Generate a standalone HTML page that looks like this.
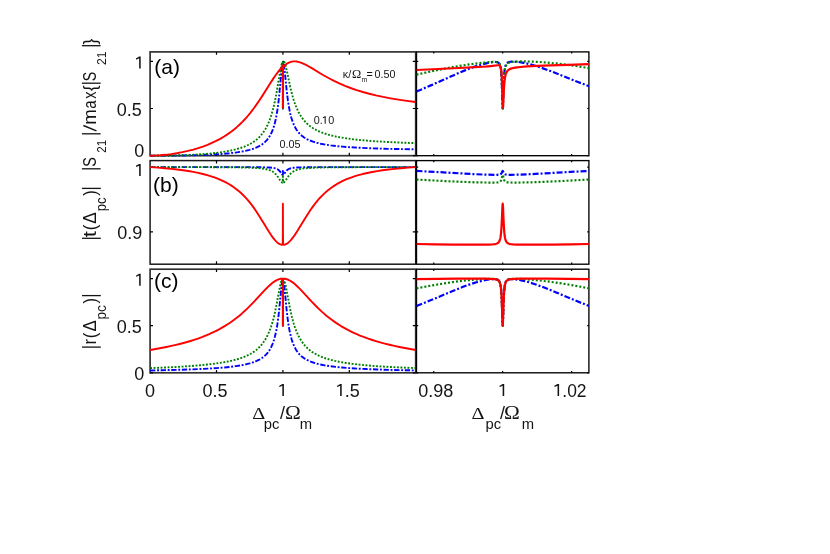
<!DOCTYPE html>
<html><head><meta charset="utf-8"><title>figure</title>
<style>
html,body{margin:0;padding:0;background:#fff;}
body{width:830px;height:554px;overflow:hidden;font-family:"Liberation Sans",sans-serif;}
svg text{white-space:pre;}
svg{will-change:transform;}
</style></head><body>
<svg width="830" height="554" viewBox="0 0 830 554" style="display:block">
<rect width="830" height="554" fill="#fff"/>
<defs>
<clipPath id="cl0"><rect x="149.90" y="51.40" width="265.80" height="105.50"/></clipPath>
<clipPath id="cr0"><rect x="416.20" y="51.40" width="173.00" height="105.50"/></clipPath>
<clipPath id="cl1"><rect x="149.90" y="160.10" width="265.80" height="105.30"/></clipPath>
<clipPath id="cr1"><rect x="416.20" y="160.10" width="173.00" height="105.30"/></clipPath>
<clipPath id="cl2"><rect x="149.90" y="268.70" width="265.80" height="105.30"/></clipPath>
<clipPath id="cr2"><rect x="416.20" y="268.70" width="173.00" height="105.30"/></clipPath>
</defs>
<rect x="150.10" y="51.90" width="265.60" height="103.80" fill="none" stroke="#333333" stroke-width="1.70"/>
<path d="M216.50 155.70v-2.90M216.50 51.90v2.90M282.90 155.70v-2.90M282.90 51.90v2.90M349.30 155.70v-2.90M349.30 51.90v2.90M150.10 155.70h2.90M415.70 155.70h-2.90M150.10 108.52h2.90M415.70 108.52h-2.90M150.10 61.34h2.90M415.70 61.34h-2.90" stroke="#000" stroke-width="1.2" fill="none"/>
<g clip-path="url(#cl0)" fill="none" stroke-width="1.90" stroke-linejoin="round">
<path d="M150.10,155.70 L176.00,155.59 L186.95,155.42 L196.91,155.16 L206.21,154.82 L214.84,154.39 L222.48,153.88 L229.45,153.26 L235.42,152.57 L240.74,151.78 L245.38,150.89 L249.70,149.85 L253.35,148.72 L256.67,147.42 L259.66,145.93 L260.99,145.15 L262.32,144.26 L263.64,143.25 L264.64,142.40 L266.63,140.41 L268.29,138.36 L269.95,135.82 L271.28,133.31 L272.61,130.23 L273.94,126.38 L274.93,122.81 L275.93,118.45 L276.59,115.00 L277.59,108.78 L278.25,103.79 L278.92,98.03 L279.58,91.44 L281.67,68.13 L282.18,63.84 L282.39,62.61 L282.56,61.99 L282.62,61.96 L282.67,62.07 L282.74,62.89 L282.82,67.34 L282.90,108.50 L282.99,67.33 L283.08,62.80 L283.17,61.89 L283.29,61.60 L283.50,61.96 L283.74,63.02 L284.28,66.85 L286.55,89.34 L287.22,95.12 L287.88,100.19 L288.54,104.59 L289.54,110.12 L290.20,113.22 L291.20,117.16 L292.20,120.42 L293.52,123.96 L294.85,126.81 L295.52,128.05 L296.51,129.69 L298.17,132.00 L299.83,133.88 L301.82,135.72 L304.15,137.45 L306.80,139.02 L309.79,140.43 L313.11,141.68 L316.76,142.77 L320.75,143.72 L325.40,144.60 L330.71,145.40 L336.35,146.07 L342.66,146.67 L349.96,147.22 L358.26,147.71 L367.23,148.13 L377.52,148.51 L388.81,148.84 L415.70,149.38" stroke="#0000ff" stroke-dasharray="5.3 1.7 1.9 1.7"/>
<path d="M150.10,155.70 L162.38,155.66 L172.01,155.55 L181.31,155.32 L189.94,154.98 L198.24,154.52 L206.21,153.93 L213.18,153.25 L219.82,152.43 L225.80,151.50 L231.11,150.48 L236.09,149.29 L240.40,148.02 L244.39,146.59 L248.04,145.00 L251.36,143.23 L254.35,141.31 L257.00,139.24 L259.33,137.08 L261.65,134.49 L263.64,131.84 L265.64,128.66 L267.30,125.52 L268.96,121.79 L270.28,118.30 L271.61,114.25 L272.61,110.79 L273.60,106.91 L274.60,102.58 L275.60,97.75 L276.59,92.44 L279.58,74.63 L280.58,69.07 L281.09,66.57 L281.62,64.40 L282.09,62.86 L282.49,61.97 L282.58,61.92 L282.64,62.00 L282.72,62.55 L282.81,66.59 L282.90,108.47 L283.02,65.90 L283.08,63.54 L283.18,62.33 L283.36,61.63 L283.50,61.45 L283.65,61.39 L283.88,61.48 L284.13,61.73 L284.71,62.82 L285.26,64.41 L285.89,66.69 L286.88,71.05 L290.20,86.82 L291.53,92.36 L292.53,96.08 L293.52,99.45 L294.52,102.48 L295.52,105.23 L296.84,108.49 L298.50,111.99 L300.16,114.97 L301.82,117.53 L303.82,120.15 L305.81,122.37 L308.13,124.57 L310.46,126.44 L313.11,128.24 L316.10,129.95 L319.42,131.53 L323.07,132.99 L327.06,134.31 L331.37,135.49 L336.02,136.56 L341.00,137.51 L346.64,138.41 L352.95,139.25 L359.59,139.97 L366.90,140.64 L374.86,141.23 L383.83,141.79 L393.46,142.28 L404.08,142.73 L415.70,143.13" stroke="#008000" stroke-dasharray="1.9 1.6"/>
<path d="M150.10,155.70 L155.08,155.61 L160.39,155.31 L165.70,154.82 L171.02,154.16 L176.66,153.26 L182.30,152.19 L187.95,150.93 L193.26,149.55 L198.24,148.08 L202.89,146.53 L207.54,144.79 L211.85,142.97 L216.17,140.93 L220.15,138.83 L224.14,136.49 L227.79,134.11 L230.78,131.98 L233.76,129.67 L236.75,127.16 L239.41,124.75 L242.40,121.83 L245.05,119.02 L247.71,116.01 L250.36,112.80 L254.02,108.03 L258.00,102.41 L262.32,95.87 L270.28,83.24 L273.27,78.64 L275.26,75.72 L277.26,72.96 L281.80,67.25 L282.32,66.37 L282.73,65.23 L282.81,66.30 L282.85,71.09 L282.91,107.74 L283.01,74.85 L283.11,70.11 L283.32,67.86 L283.62,66.87 L284.13,66.05 L285.01,65.14 L286.22,64.17 L287.55,63.32 L288.88,62.63 L290.20,62.10 L291.86,61.64 L293.19,61.42 L294.52,61.34 L295.52,61.38 L296.84,61.55 L298.17,61.82 L299.83,62.29 L301.49,62.87 L303.15,63.56 L305.48,64.67 L308.46,66.27 L311.78,68.19 L320.08,73.20 L324.40,75.73 L329.38,78.50 L334.03,80.89 L339.34,83.41 L344.98,85.83 L350.63,88.01 L356.60,90.07 L362.91,92.01 L369.22,93.74 L375.86,95.35 L383.16,96.93 L390.47,98.32 L398.44,99.66 L406.74,100.88 L415.70,102.05" stroke="#ff0000" />
</g>
<rect x="416.50" y="51.90" width="172.40" height="103.80" fill="none" stroke="#000000" stroke-width="1.35"/>
<path d="M433.74 155.70v-1.70M433.74 51.90v1.70M502.70 155.70v-1.70M502.70 51.90v1.70M571.66 155.70v-1.70M571.66 51.90v1.70M416.50 155.70h1.70M588.90 155.70h-1.70M416.50 108.52h1.70M588.90 108.52h-1.70M416.50 61.34h1.70M588.90 61.34h-1.70" stroke="#000" stroke-width="1.2" fill="none"/>
<g clip-path="url(#cr0)" fill="none" stroke-width="2.20" stroke-linejoin="round">
<path d="M416.50,91.44 L423.40,88.59 L430.87,85.38 L458.74,72.97 L464.92,70.38 L470.38,68.23 L474.11,66.87 L477.56,65.71 L480.86,64.69 L484.02,63.81 L487.18,63.06 L490.06,62.49 L492.64,62.11 L494.65,61.96 L496.09,61.99 L497.24,62.19 L498.12,62.54 L498.82,63.07 L499.45,63.88 L499.96,64.98 L500.39,66.48 L500.67,67.89 L500.98,70.11 L501.19,72.29 L501.58,78.17 L501.94,86.87 L502.49,105.09 L502.61,107.65 L502.72,108.51 L502.84,107.71 L502.96,105.19 L503.49,88.20 L503.82,80.27 L504.21,74.08 L504.65,69.88 L505.00,67.76 L505.33,66.38 L505.72,65.21 L506.25,64.13 L506.87,63.31 L507.48,62.77 L508.30,62.31 L509.31,61.97 L511.18,61.67 L513.62,61.61 L516.64,61.79 L519.94,62.19 L523.53,62.81 L527.27,63.61 L531.15,64.60 L535.31,65.80 L542.35,68.10 L550.40,71.05 L558.01,74.01 L577.98,81.99 L588.90,86.19" stroke="#0000ff" stroke-dasharray="6 2 2 2"/>
<path d="M416.50,74.63 L431.01,71.41 L443.65,68.81 L455.29,66.64 L466.21,64.86 L472.24,64.00 L478.13,63.25 L483.74,62.64 L488.75,62.18 L492.21,61.97 L494.80,61.93 L496.52,62.06 L497.82,62.40 L498.53,62.79 L499.11,63.31 L499.58,63.99 L499.96,64.78 L500.29,65.79 L500.58,67.03 L501.06,70.33 L501.41,74.39 L501.72,80.10 L502.00,87.74 L502.51,104.83 L502.63,107.58 L502.75,108.47 L502.86,107.69 L502.98,105.28 L503.53,88.51 L503.85,80.92 L504.21,75.32 L504.65,71.03 L504.91,69.30 L505.22,67.84 L505.57,66.58 L506.00,65.48 L506.56,64.51 L507.09,63.87 L507.73,63.33 L508.63,62.80 L510.17,62.26 L512.33,61.86 L515.06,61.60 L518.65,61.44 L523.24,61.40 L528.42,61.48 L533.88,61.69 L539.62,62.01 L545.08,62.42 L550.68,62.91 L562.47,64.21 L575.11,65.91 L588.90,68.07" stroke="#008000" stroke-dasharray="2 2"/>
<path d="M416.50,69.99 L459.03,68.01 L475.26,67.19 L482.73,66.74 L488.33,66.32 L492.36,65.93 L497.82,65.25 L498.68,65.25 L499.40,65.41 L499.83,65.68 L500.11,65.99 L500.40,66.48 L500.69,67.23 L501.13,69.30 L501.48,72.49 L501.72,75.88 L501.94,80.50 L502.66,103.71 L502.80,106.76 L502.93,107.74 L503.04,107.20 L503.17,105.15 L503.72,92.70 L504.08,86.40 L504.49,81.54 L505.01,77.56 L505.33,75.92 L505.72,74.41 L506.15,73.17 L506.72,71.96 L507.30,71.10 L508.02,70.30 L508.88,69.62 L509.73,69.12 L510.89,68.63 L512.18,68.22 L513.76,67.85 L515.51,67.55 L520.23,66.98 L526.98,66.47 L537.04,65.94 L550.68,65.38 L568.36,64.78 L588.90,64.17" stroke="#ff0000" />
</g>
<rect x="150.10" y="160.60" width="265.60" height="103.60" fill="none" stroke="#1a1a1a" stroke-width="1.50"/>
<path d="M216.50 264.20v-2.90M216.50 160.60v2.90M282.90 264.20v-2.90M282.90 160.60v2.90M349.30 264.20v-2.90M349.30 160.60v2.90M150.10 231.82h2.90M415.70 231.82h-2.90M150.10 167.07h2.90M415.70 167.07h-2.90" stroke="#000" stroke-width="1.2" fill="none"/>
<g clip-path="url(#cl1)" fill="none" stroke-width="1.90" stroke-linejoin="round">
<path d="M150.10,167.08 L247.04,167.14 L261.65,167.25 L269.29,167.50 L271.94,167.72 L274.27,168.07 L275.93,168.50 L277.26,169.07 L278.25,169.70 L279.25,170.60 L280.24,171.83 L281.84,174.20 L282.28,174.65 L282.60,174.81 L282.74,174.68 L282.81,174.26 L282.90,170.96 L283.00,174.34 L283.08,174.73 L283.26,174.80 L283.60,174.59 L284.00,174.14 L285.56,171.83 L286.55,170.60 L287.55,169.70 L288.54,169.07 L289.87,168.50 L291.86,168.00 L294.19,167.69 L296.84,167.49 L304.81,167.24 L319.42,167.13 L415.70,167.08" stroke="#0000ff" stroke-dasharray="5.3 1.7 1.9 1.7"/>
<path d="M150.10,167.08 L206.21,167.15 L235.09,167.33 L244.39,167.48 L251.69,167.70 L257.34,168.01 L261.65,168.41 L265.30,168.96 L268.29,169.68 L269.62,170.13 L270.95,170.68 L271.94,171.19 L272.94,171.80 L274.60,173.09 L275.93,174.42 L277.59,176.53 L279.91,180.03 L280.79,181.25 L281.71,182.21 L282.15,182.49 L282.48,182.58 L282.61,182.53 L282.70,182.38 L282.80,181.60 L282.90,174.83 L283.02,181.86 L283.15,182.49 L283.28,182.57 L283.50,182.55 L283.85,182.38 L284.23,182.09 L285.09,181.15 L288.21,176.53 L289.87,174.42 L291.20,173.09 L292.86,171.80 L293.86,171.19 L294.85,170.68 L296.18,170.13 L297.51,169.68 L300.50,168.96 L304.15,168.41 L308.46,168.01 L314.11,167.70 L321.41,167.48 L330.71,167.33 L359.59,167.15 L415.70,167.08" stroke="#008000" stroke-dasharray="1.9 1.6"/>
<path d="M150.10,167.08 L157.74,167.61 L164.71,168.19 L171.35,168.83 L177.32,169.51 L182.97,170.24 L188.28,171.04 L193.26,171.90 L198.24,172.90 L202.89,173.97 L207.20,175.10 L211.19,176.30 L215.17,177.66 L218.82,179.08 L222.14,180.53 L225.46,182.17 L228.78,184.00 L231.44,185.64 L233.76,187.20 L236.09,188.91 L238.41,190.77 L240.74,192.79 L243.06,194.99 L245.38,197.38 L247.38,199.59 L249.70,202.36 L251.69,204.90 L253.68,207.60 L256.01,210.95 L260.32,217.65 L268.96,231.81 L271.28,235.34 L273.27,238.08 L274.60,239.72 L275.60,240.83 L276.92,242.12 L277.92,242.94 L278.92,243.63 L279.91,244.17 L281.02,244.58 L281.95,244.73 L282.37,244.62 L282.58,244.24 L282.69,243.33 L282.76,241.69 L282.84,232.76 L282.90,203.64 L282.97,234.62 L283.08,242.80 L283.19,244.08 L283.39,244.59 L283.60,244.70 L283.88,244.73 L284.78,244.58 L285.89,244.17 L286.88,243.63 L287.88,242.94 L288.88,242.12 L289.87,241.17 L290.87,240.10 L293.19,237.21 L295.18,234.36 L297.18,231.29 L305.48,217.65 L309.46,211.44 L311.78,208.07 L313.78,205.34 L315.77,202.77 L318.09,199.97 L320.08,197.74 L322.41,195.32 L324.73,193.09 L327.06,191.04 L329.38,189.16 L331.70,187.44 L334.03,185.85 L336.68,184.20 L340.00,182.34 L343.32,180.69 L346.64,179.22 L350.30,177.79 L354.28,176.41 L358.26,175.20 L362.58,174.05 L367.23,172.97 L372.21,171.97 L377.19,171.10 L382.50,170.29 L388.48,169.51 L394.45,168.83 L401.09,168.19 L408.06,167.61 L415.70,167.08" stroke="#ff0000" />
</g>
<rect x="416.50" y="160.60" width="172.40" height="103.60" fill="none" stroke="#000000" stroke-width="1.35"/>
<path d="M433.74 264.20v-1.70M433.74 160.60v1.70M502.70 264.20v-1.70M502.70 160.60v1.70M571.66 264.20v-1.70M571.66 160.60v1.70M416.50 231.82h1.70M588.90 231.82h-1.70M416.50 167.07h1.70M588.90 167.07h-1.70" stroke="#000" stroke-width="1.2" fill="none"/>
<g clip-path="url(#cr1)" fill="none" stroke-width="2.20" stroke-linejoin="round">
<path d="M416.50,170.97 L434.89,171.90 L474.54,174.16 L485.89,174.63 L494.80,174.81 L497.02,174.78 L498.53,174.69 L499.58,174.53 L500.40,174.26 L500.91,173.93 L501.38,173.42 L501.76,172.74 L502.40,171.25 L502.56,171.03 L502.69,170.96 L502.84,171.03 L503.00,171.25 L503.64,172.74 L504.02,173.42 L504.49,173.93 L505.00,174.26 L505.82,174.53 L506.87,174.69 L508.38,174.78 L510.60,174.81 L519.51,174.63 L530.86,174.16 L570.51,171.90 L588.90,170.97" stroke="#0000ff" stroke-dasharray="6 2 2 2"/>
<path d="M416.50,179.53 L443.22,181.01 L464.20,181.95 L474.54,182.29 L484.02,182.50 L491.78,182.58 L496.24,182.49 L497.92,182.34 L499.11,182.09 L499.96,181.71 L500.58,181.18 L501.06,180.45 L501.43,179.54 L501.80,178.20 L502.40,175.42 L502.56,174.97 L502.70,174.83 L502.84,174.97 L503.00,175.42 L503.60,178.20 L503.97,179.54 L504.34,180.45 L504.82,181.18 L505.44,181.71 L506.29,182.09 L507.48,182.34 L509.16,182.49 L513.62,182.58 L521.38,182.50 L530.86,182.29 L541.20,181.95 L562.18,181.01 L588.90,179.53" stroke="#008000" stroke-dasharray="2 2"/>
<path d="M416.50,244.00 L435.18,244.33 L453.28,244.57 L470.09,244.71 L482.44,244.72 L488.62,244.63 L492.50,244.43 L493.99,244.28 L495.23,244.07 L496.23,243.81 L497.02,243.51 L497.82,243.05 L498.39,242.56 L498.96,241.85 L499.40,241.08 L499.83,240.00 L500.11,239.02 L500.40,237.73 L500.69,236.02 L501.06,232.86 L501.43,228.07 L501.80,221.08 L502.39,206.92 L502.55,204.46 L502.70,203.64 L502.85,204.46 L503.01,206.92 L503.60,221.08 L503.97,228.07 L504.34,232.86 L504.71,236.02 L505.00,237.73 L505.29,239.02 L505.57,240.00 L506.00,241.08 L506.44,241.85 L507.01,242.56 L507.58,243.05 L508.38,243.51 L509.16,243.81 L510.17,244.07 L511.41,244.28 L512.90,244.43 L516.78,244.63 L522.96,244.72 L535.31,244.71 L552.12,244.57 L570.22,244.33 L588.90,244.00" stroke="#ff0000" />
</g>
<rect x="150.10" y="269.20" width="265.60" height="103.60" fill="none" stroke="#333333" stroke-width="1.70"/>
<path d="M216.50 372.80v-2.90M216.50 269.20v2.90M282.90 372.80v-2.90M282.90 269.20v2.90M349.30 372.80v-2.90M349.30 269.20v2.90M150.10 372.80h2.90M415.70 372.80h-2.90M150.10 325.71h2.90M415.70 325.71h-2.90M150.10 278.62h2.90M415.70 278.62h-2.90" stroke="#000" stroke-width="1.2" fill="none"/>
<g clip-path="url(#cl2)" fill="none" stroke-width="1.90" stroke-linejoin="round">
<path d="M150.10,370.45 L177.32,369.84 L188.94,369.47 L199.24,369.07 L208.20,368.62 L216.50,368.10 L223.80,367.52 L230.11,366.89 L235.76,366.18 L241.07,365.35 L245.72,364.42 L249.70,363.43 L253.35,362.28 L256.67,360.97 L259.33,359.66 L260.66,358.90 L261.98,358.03 L264.31,356.24 L266.30,354.33 L267.30,353.19 L268.29,351.92 L269.95,349.40 L271.28,346.91 L272.61,343.87 L273.94,340.07 L274.93,336.54 L275.93,332.26 L276.59,328.88 L277.26,324.97 L277.92,320.46 L278.58,315.25 L279.25,309.28 L281.62,284.51 L282.15,280.51 L282.39,279.38 L282.56,279.03 L282.67,279.33 L282.74,280.21 L282.81,284.77 L282.90,325.71 L282.99,284.35 L283.08,279.95 L283.16,279.17 L283.21,279.04 L283.29,279.07 L283.48,279.62 L283.71,280.87 L284.23,284.92 L286.22,306.00 L286.88,312.36 L287.55,317.95 L288.21,322.80 L289.21,328.88 L289.87,332.26 L290.87,336.54 L291.86,340.07 L293.19,343.87 L294.52,346.91 L295.85,349.40 L297.51,351.92 L298.50,353.19 L299.50,354.33 L301.49,356.24 L303.82,358.03 L305.14,358.90 L306.47,359.66 L309.13,360.97 L312.45,362.28 L316.10,363.43 L320.08,364.42 L324.73,365.35 L330.04,366.18 L335.69,366.89 L342.00,367.52 L349.30,368.10 L357.60,368.62 L366.56,369.07 L376.86,369.47 L388.48,369.84 L415.70,370.45" stroke="#0000ff" stroke-dasharray="5.3 1.7 1.9 1.7"/>
<path d="M150.10,368.10 L162.05,367.63 L172.68,367.14 L182.64,366.58 L191.60,365.97 L199.90,365.29 L207.20,364.57 L213.84,363.79 L220.15,362.89 L225.80,361.92 L231.11,360.82 L235.76,359.66 L240.07,358.37 L243.72,357.06 L247.38,355.49 L250.70,353.78 L253.68,351.92 L256.34,349.95 L258.66,347.91 L260.99,345.48 L262.98,343.01 L264.97,340.08 L266.63,337.19 L268.29,333.81 L269.62,330.66 L270.95,327.03 L271.94,323.95 L272.94,320.51 L273.94,316.68 L274.93,312.43 L276.26,306.10 L279.25,290.09 L280.35,284.66 L280.95,282.21 L281.46,280.51 L281.99,279.28 L282.23,278.94 L282.42,278.82 L282.52,278.88 L282.60,279.05 L282.70,279.78 L282.80,283.78 L282.90,325.71 L283.01,282.78 L283.14,279.36 L283.28,278.88 L283.39,278.83 L283.52,278.89 L283.96,279.57 L284.45,280.85 L285.01,282.80 L285.55,285.11 L286.55,290.09 L289.54,306.10 L290.87,312.43 L291.86,316.68 L292.86,320.51 L293.86,323.95 L294.85,327.03 L296.18,330.66 L297.84,334.53 L299.50,337.81 L301.16,340.60 L303.15,343.45 L305.14,345.85 L307.47,348.22 L309.79,350.22 L312.45,352.15 L315.44,353.97 L318.76,355.65 L322.41,357.19 L326.06,358.48 L330.38,359.75 L335.02,360.90 L340.34,361.98 L345.98,362.94 L352.29,363.83 L358.93,364.61 L366.23,365.32 L374.53,365.99 L383.50,366.60 L393.12,367.14 L403.75,367.63 L415.70,368.10" stroke="#008000" stroke-dasharray="1.9 1.6"/>
<path d="M150.10,349.96 L161.06,348.04 L166.37,346.99 L171.35,345.93 L176.00,344.87 L180.64,343.71 L185.29,342.47 L189.61,341.22 L193.92,339.87 L197.91,338.53 L201.89,337.08 L205.54,335.65 L209.20,334.12 L212.85,332.46 L216.17,330.84 L219.49,329.11 L222.48,327.44 L225.46,325.66 L228.45,323.76 L231.11,321.96 L233.76,320.06 L236.42,318.05 L239.08,315.92 L241.73,313.66 L245.72,310.06 L249.70,306.18 L254.35,301.37 L262.65,292.36 L265.64,289.20 L268.96,285.92 L271.94,283.31 L273.27,282.30 L274.60,281.38 L275.93,280.58 L277.26,279.90 L278.58,279.35 L279.58,279.03 L280.79,278.76 L281.84,278.66 L282.35,278.76 L282.58,279.09 L282.70,279.96 L282.77,281.66 L282.85,292.02 L282.90,325.71 L282.96,289.33 L283.07,280.43 L283.18,279.28 L283.28,278.96 L283.41,278.79 L283.65,278.68 L284.00,278.66 L285.17,278.79 L286.22,279.03 L287.55,279.48 L288.88,280.06 L290.20,280.77 L291.53,281.60 L292.86,282.54 L294.19,283.58 L295.85,285.01 L298.17,287.19 L300.83,289.89 L311.45,301.37 L316.43,306.52 L319.09,309.11 L321.74,311.59 L324.07,313.66 L326.72,315.92 L331.37,319.57 L336.02,322.88 L341.00,326.07 L345.98,328.93 L349.30,330.68 L352.62,332.30 L356.27,333.97 L359.92,335.52 L363.58,336.96 L367.56,338.41 L371.54,339.76 L375.86,341.12 L380.18,342.38 L384.82,343.63 L389.47,344.79 L394.45,345.93 L399.43,346.99 L404.74,348.04 L415.70,349.96" stroke="#ff0000" />
</g>
<rect x="416.50" y="269.20" width="172.40" height="103.60" fill="none" stroke="#000000" stroke-width="1.35"/>
<path d="M433.74 372.80v-1.70M433.74 269.20v1.70M502.70 372.80v-1.70M502.70 269.20v1.70M571.66 372.80v-1.70M571.66 269.20v1.70M416.50 372.80h1.70M588.90 372.80h-1.70M416.50 325.71h1.70M588.90 325.71h-1.70M416.50 278.62h1.70M588.90 278.62h-1.70" stroke="#000" stroke-width="1.2" fill="none"/>
<g clip-path="url(#cr2)" fill="none" stroke-width="2.20" stroke-linejoin="round">
<path d="M416.50,306.00 L429.29,300.85 L456.30,289.49 L463.05,286.83 L469.08,284.62 L472.82,283.37 L476.41,282.27 L479.86,281.31 L483.02,280.55 L486.14,279.90 L489.05,279.43 L491.64,279.13 L493.94,279.03 L495.52,279.11 L496.77,279.34 L497.71,279.70 L498.53,280.27 L499.15,281.00 L499.71,282.04 L500.18,283.44 L500.54,285.08 L500.83,286.95 L501.12,289.55 L501.55,295.78 L501.91,304.26 L502.47,322.51 L502.59,324.91 L502.70,325.71 L502.81,324.91 L502.94,322.24 L503.46,305.23 L503.77,297.38 L504.14,291.25 L504.57,286.93 L504.85,285.08 L505.22,283.44 L505.57,282.33 L506.00,281.39 L506.56,280.58 L507.15,280.03 L507.91,279.59 L508.88,279.27 L510.60,279.05 L512.90,279.07 L515.77,279.35 L519.08,279.87 L522.53,280.58 L526.26,281.50 L530.14,282.61 L534.31,283.94 L540.92,286.29 L548.39,289.20 L555.57,292.17 L576.11,300.85 L588.90,306.00" stroke="#0000ff" stroke-dasharray="6 2 2 2"/>
<path d="M416.50,288.36 L430.72,285.67 L443.37,283.51 L455.00,281.79 L466.07,280.44 L471.96,279.85 L477.56,279.39 L482.87,279.05 L487.62,278.86 L491.06,278.83 L493.79,278.94 L495.80,279.20 L497.26,279.63 L498.10,280.10 L498.68,280.60 L499.25,281.35 L499.68,282.18 L500.07,283.26 L500.39,284.50 L500.91,287.76 L501.32,292.14 L501.63,297.49 L501.94,305.30 L502.46,322.25 L502.58,324.85 L502.70,325.71 L502.82,324.85 L502.94,322.25 L503.46,305.30 L503.77,297.49 L504.08,292.14 L504.49,287.76 L505.01,284.50 L505.33,283.26 L505.72,282.18 L506.15,281.35 L506.72,280.60 L507.30,280.10 L508.14,279.63 L509.60,279.20 L511.61,278.94 L514.34,278.83 L517.79,278.86 L522.53,279.05 L527.84,279.39 L533.44,279.85 L539.33,280.44 L550.40,281.79 L562.03,283.51 L574.68,285.67 L588.90,288.36" stroke="#008000" stroke-dasharray="2 2"/>
<path d="M416.50,279.03 L458.16,278.71 L474.83,278.66 L485.32,278.71 L490.49,278.82 L493.79,279.04 L495.04,279.20 L496.09,279.41 L496.95,279.68 L497.67,280.01 L498.39,280.51 L498.96,281.12 L499.45,281.87 L499.83,282.71 L500.18,283.82 L500.49,285.13 L500.99,288.55 L501.38,293.09 L501.68,298.54 L502.46,322.26 L502.58,324.85 L502.70,325.71 L502.82,324.85 L502.94,322.26 L503.72,298.54 L504.02,293.09 L504.41,288.55 L504.91,285.13 L505.22,283.82 L505.57,282.71 L505.95,281.87 L506.44,281.12 L507.01,280.51 L507.73,280.01 L508.45,279.68 L509.31,279.41 L510.36,279.20 L511.61,279.04 L514.91,278.82 L520.08,278.71 L530.57,278.66 L547.24,278.71 L588.90,279.03" stroke="#ff0000" />
</g>
<path d="M139.15 56.60H140.70V68.60H139.15V58.35L136.40 59.65L135.85 58.50Z" fill="#141414"/>
<text x="141.80" y="115.78" font-size="18.00" text-anchor="end" fill="#141414" style="font-family:'Liberation Sans',sans-serif" >0.5</text>
<text x="144.20" y="157.08" font-size="18.00" text-anchor="end" fill="#141414" style="font-family:'Liberation Sans',sans-serif" >0</text>
<path d="M139.15 163.90H140.70V175.90H139.15V165.65L136.40 166.95L135.85 165.80Z" fill="#141414"/>
<text x="142.30" y="238.78" font-size="18.00" text-anchor="end" fill="#141414" style="font-family:'Liberation Sans',sans-serif" >0.9</text>
<path d="M139.15 273.80H140.70V285.80H139.15V275.55L136.40 276.85L135.85 275.70Z" fill="#141414"/>
<text x="141.80" y="333.18" font-size="18.00" text-anchor="end" fill="#141414" style="font-family:'Liberation Sans',sans-serif" >0.5</text>
<text x="144.20" y="379.88" font-size="18.00" text-anchor="end" fill="#141414" style="font-family:'Liberation Sans',sans-serif" >0</text>
<text x="149.90" y="396.80" font-size="18.00" text-anchor="middle" fill="#141414" style="font-family:'Liberation Sans',sans-serif" >0</text>
<text x="215.00" y="396.80" font-size="18.00" text-anchor="middle" fill="#141414" style="font-family:'Liberation Sans',sans-serif" >0.5</text>
<path d="M282.35 384.00H283.90V396.00H282.35V385.75L279.60 387.05L279.05 385.90Z" fill="#141414"/>
<path d="M340.15 384.00H341.70V396.00H340.15V385.75L337.40 387.05L336.85 385.90Z" fill="#141414"/>
<text x="344.66" y="396.80" font-size="18.00" text-anchor="start" fill="#141414" style="font-family:'Liberation Sans',sans-serif" >.5</text>
<text x="435.80" y="396.80" font-size="18.00" text-anchor="middle" fill="#141414" style="font-family:'Liberation Sans',sans-serif" >0.98</text>
<path d="M502.65 384.00H504.20V396.00H502.65V385.75L499.90 387.05L499.35 385.90Z" fill="#141414"/>
<path d="M557.55 383.90H559.10V395.90H557.55V385.65L554.80 386.95L554.25 385.80Z" fill="#141414"/>
<text transform="translate(562.31 396.80) scale(0.970 1)" font-size="18.00" fill="#141414" style="font-family:'Liberation Sans',sans-serif">.02</text>
<text x="154.30" y="74.10" font-size="21.00" text-anchor="start" fill="#000000" style="font-family:'Liberation Sans',sans-serif" >(a)</text>
<text x="153.10" y="191.70" font-size="21.00" text-anchor="start" fill="#000000" style="font-family:'Liberation Sans',sans-serif" >(b)</text>
<text x="154.00" y="288.10" font-size="21.00" text-anchor="start" fill="#000000" style="font-family:'Liberation Sans',sans-serif" >(c)</text>
<text x="342.87" y="77.90" font-size="10.80" text-anchor="start" fill="#141414" style="font-family:'Liberation Sans',sans-serif" >κ/</text>
<text x="351.96" y="77.80" font-size="12.40" text-anchor="start" fill="#141414" style="font-family:'Liberation Serif',serif" >Ω</text>
<text x="361.45" y="81.60" font-size="6.80" text-anchor="start" fill="#141414" style="font-family:'Liberation Sans',sans-serif" >m</text>
<text x="366.57" y="77.90" font-size="10.80" text-anchor="start" fill="#141414" style="font-family:'Liberation Sans',sans-serif" >=</text>
<text x="374.58" y="77.90" font-size="10.80" text-anchor="start" fill="#141414" style="font-family:'Liberation Sans',sans-serif" >0.50</text>
<text x="313.78" y="123.80" font-size="10.80" text-anchor="start" fill="#141414" style="font-family:'Liberation Sans',sans-serif" >0.</text>
<path d="M324.65 116.30H325.70V123.80H324.65V117.39L323.01 118.21L322.67 117.49Z" fill="#141414"/>
<text x="328.28" y="123.80" font-size="10.80" text-anchor="start" fill="#141414" style="font-family:'Liberation Sans',sans-serif" >0</text>
<text x="279.38" y="148.30" font-size="10.80" text-anchor="start" fill="#141414" style="font-family:'Liberation Sans',sans-serif" >0.05</text>
<text transform="translate(252.23 418.50) scale(1.150 1)" font-size="17.60" fill="#141414" style="font-family:'Liberation Serif',serif">Δ</text>
<text x="263.75" y="429.40" font-size="14.80" text-anchor="start" fill="#141414" style="font-family:'Liberation Sans',sans-serif" >pc</text>
<text x="280.00" y="418.80" font-size="18.00" text-anchor="start" fill="#141414" style="font-family:'Liberation Sans',sans-serif" >/</text>
<text transform="translate(284.90 418.50) scale(1.120 1)" font-size="19.00" fill="#141414" style="font-family:'Liberation Serif',serif">Ω</text>
<text x="299.72" y="429.40" font-size="14.80" text-anchor="start" fill="#141414" style="font-family:'Liberation Sans',sans-serif" >m</text>
<text transform="translate(471.53 418.50) scale(1.150 1)" font-size="17.60" fill="#141414" style="font-family:'Liberation Serif',serif">Δ</text>
<text x="485.45" y="429.40" font-size="14.80" text-anchor="start" fill="#141414" style="font-family:'Liberation Sans',sans-serif" >pc</text>
<text x="499.90" y="418.80" font-size="18.00" text-anchor="start" fill="#141414" style="font-family:'Liberation Sans',sans-serif" >/</text>
<text transform="translate(504.10 418.50) scale(1.120 1)" font-size="19.00" fill="#141414" style="font-family:'Liberation Serif',serif">Ω</text>
<text x="521.82" y="429.40" font-size="14.80" text-anchor="start" fill="#141414" style="font-family:'Liberation Sans',sans-serif" >m</text>
<path d="M81.90 168.80H100.60" stroke="#141414" stroke-width="1.30" fill="none"/>
<path d="M81.90 133.80H100.60" stroke="#141414" stroke-width="1.30" fill="none"/>
<path d="M81.90 83.20H100.60" stroke="#141414" stroke-width="1.30" fill="none"/>
<path d="M81.90 45.70H100.60" stroke="#141414" stroke-width="1.30" fill="none"/>
<text transform="translate(95.90 166.85) rotate(-90) scale(0.784 1)" font-size="18.40" fill="#141414" style="font-family:'Liberation Sans',sans-serif">S</text>
<text transform="translate(95.90 124.74) rotate(-90) scale(1.016 1)" font-size="18.40" fill="#141414" style="font-family:'Liberation Sans',sans-serif">m</text>
<text transform="translate(95.90 108.84) rotate(-90) scale(0.815 1)" font-size="18.40" fill="#141414" style="font-family:'Liberation Sans',sans-serif">a</text>
<text transform="translate(95.90 98.76) rotate(-90) scale(0.784 1)" font-size="18.40" fill="#141414" style="font-family:'Liberation Sans',sans-serif">x</text>
<text transform="translate(95.90 91.08) rotate(-90) scale(0.906 1)" font-size="18.40" fill="#141414" style="font-family:'Liberation Sans',sans-serif">{</text>
<text transform="translate(95.90 81.35) rotate(-90) scale(0.774 1)" font-size="18.40" fill="#141414" style="font-family:'Liberation Sans',sans-serif">S</text>
<text transform="translate(95.90 44.59) rotate(-90) scale(0.962 1)" font-size="18.40" fill="#141414" style="font-family:'Liberation Sans',sans-serif">}</text>
<path d="M83.4 125.5L96.5 130.8" stroke="#141414" stroke-width="1.35" fill="none"/>
<text transform="translate(106.00 152.68) rotate(-90) scale(0.875 1)" font-size="13.20" fill="#141414" style="font-family:'Liberation Sans',sans-serif">21</text>
<text transform="translate(106.00 65.11) rotate(-90) scale(0.920 1)" font-size="13.20" fill="#141414" style="font-family:'Liberation Sans',sans-serif">21</text>
<path d="M82.00 238.30H100.80" stroke="#141414" stroke-width="1.30" fill="none"/>
<path d="M82.00 188.40H100.80" stroke="#141414" stroke-width="1.30" fill="none"/>
<path d="M82.00 347.10H100.80" stroke="#141414" stroke-width="1.30" fill="none"/>
<path d="M82.00 295.60H100.80" stroke="#141414" stroke-width="1.30" fill="none"/>
<text transform="translate(96.10 237.14) rotate(-90) scale(1.213 1)" font-size="18.40" fill="#141414" style="font-family:'Liberation Sans',sans-serif">t</text>
<text transform="translate(96.10 230.25) rotate(-90) scale(0.922 1)" font-size="18.40" fill="#141414" style="font-family:'Liberation Sans',sans-serif">(</text>
<text transform="translate(96.10 195.80) rotate(-90) scale(0.922 1)" font-size="18.40" fill="#141414" style="font-family:'Liberation Sans',sans-serif">)</text>
<text transform="translate(96.10 344.42) rotate(-90) scale(0.913 1)" font-size="18.40" fill="#141414" style="font-family:'Liberation Sans',sans-serif">r</text>
<text transform="translate(96.10 338.15) rotate(-90) scale(0.922 1)" font-size="18.40" fill="#141414" style="font-family:'Liberation Sans',sans-serif">(</text>
<text transform="translate(96.10 303.50) rotate(-90) scale(0.922 1)" font-size="18.40" fill="#141414" style="font-family:'Liberation Sans',sans-serif">)</text>
<text transform="translate(96.10 223.81) rotate(-90) scale(0.972 1)" font-size="17.60" fill="#141414" style="font-family:'Liberation Sans',sans-serif">Δ</text>
<text transform="translate(96.10 331.50) rotate(-90) scale(0.953 1)" font-size="17.60" fill="#141414" style="font-family:'Liberation Sans',sans-serif">Δ</text>
<text transform="translate(106.10 211.24) rotate(-90) scale(0.919 1)" font-size="14.20" fill="#141414" style="font-family:'Liberation Sans',sans-serif">pc</text>
<text transform="translate(106.10 319.48) rotate(-90) scale(0.963 1)" font-size="14.20" fill="#141414" style="font-family:'Liberation Sans',sans-serif">pc</text>
</svg>
</body></html>
